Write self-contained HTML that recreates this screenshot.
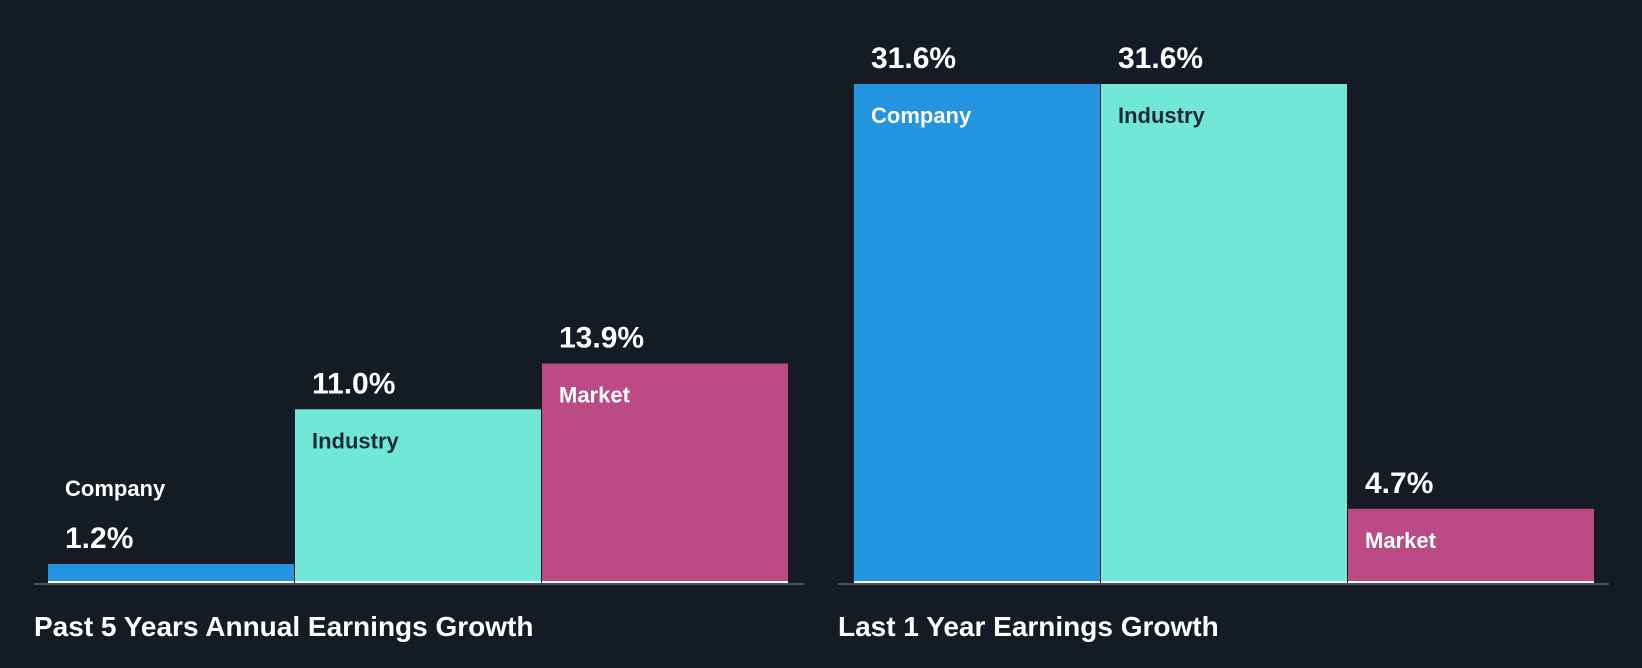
<!DOCTYPE html>
<html><head><meta charset="utf-8"><style>
html,body{margin:0;padding:0;background:#151b24;}
svg{display:block;font-family:"Liberation Sans",Arial,sans-serif;font-weight:bold;}
</style></head><body>
<svg id="c" width="1642" height="668" viewBox="0 0 1642 668">
<rect width="1642" height="668" fill="#151b24"/>
</svg>
<script>
const categories=["Company","Industry","Market"];
const past5Values=[1.2,11.0,13.9];
const last1Values=[31.6,31.6,4.7];
const panelTitles=["Past 5 Years Annual Earnings Growth","Last 1 Year Earnings Growth"];
const colors=["#2394df","#71e8d7","#bb4a85"];
const labelColors=["#ffffff","#1e2b36","#ffffff"];
const svg=document.getElementById('c');
const NS="http://www.w3.org/2000/svg";
const baseY=583, maxVal=31.6, maxH=499;
function y(v){return baseY-v/maxVal*maxH;}
function mk(t,a){const e=document.createElementNS(NS,t);for(const k in a)e.setAttribute(k,a[k]);svg.appendChild(e);return e;}
const panels=[{x0:48,w:247,ax0:34,ax1:804,vals:past5Values,tx:34},{x0:854,w:247,ax0:838,ax1:1609,vals:last1Values,tx:838}];
panels.forEach((p,pi)=>{
  const axis=mk('rect',{x:p.ax0,y:baseY,width:p.ax1-p.ax0,height:2,fill:'#4a5159'});
  
  
  p.vals.forEach((v,i)=>{
    const x=p.x0+i*p.w, top=y(v), h=baseY-top;
    const b=mk('rect',{x:x,y:top,width:p.w-1,height:h,fill:colors[i]});
    
    
    const base=mk('rect',{x:x,y:baseY-2,width:p.w-1,height:2,fill:'#ffffff'});
    
    
    const val=mk('text',{x:x+17,y:top-16,fill:'#ffffff','font-size':30});
    val.textContent=v.toFixed(1)+'%';
    
    
    let ly, lc;
    if(h>50){ly=top+39;lc=labelColors[i];}else{ly=top-68;lc='#ffffff';}
    const lab=mk('text',{x:x+17,y:ly,fill:lc,'font-size':22});
    lab.textContent=categories[i];
    
    
  });
  const t=mk('text',{x:p.tx,y:636,fill:'#ffffff','font-size':28});
  t.textContent=panelTitles[pi];
  
  
});
</script>
</body></html>
